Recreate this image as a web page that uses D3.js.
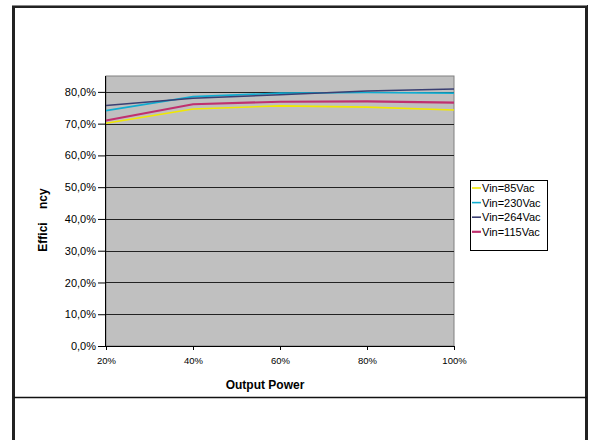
<!DOCTYPE html>
<html><head><meta charset="utf-8">
<script src="https://cdn.jsdelivr.net/npm/d3@7"></script>
<style>body{margin:0;background:#fff}svg{display:block;font-family:Arial,"Liberation Sans",sans-serif}</style>
</head><body>
<svg id="c" width="590" height="440"></svg>
<script>
const categories = ["20%","40%","60%","80%","100%"];
const xValues = [0.2,0.4,0.6,0.8,1.0];
const v85  = [0.701,0.746,0.756,0.752,0.743];
const v230 = [0.741,0.785,0.796,0.798,0.796];
const v264 = [0.757,0.780,0.791,0.803,0.809];
const v115 = [0.710,0.761,0.769,0.770,0.766];
const seriesNames = ["Vin=85Vac","Vin=230Vac","Vin=264Vac","Vin=115Vac"];
const yTicks = [0,0.1,0.2,0.3,0.4,0.5,0.6,0.7,0.8];

const series = [
  {name: seriesNames[0], values: v85,  color: "#f0e800", w: 1.6},
  {name: seriesNames[1], values: v230, color: "#10acd0", w: 1.6},
  {name: seriesNames[2], values: v264, color: "#3a3f72", w: 1.6},
  {name: seriesNames[3], values: v115, color: "#c0306e", w: 2.2}
];
const drawOrder = [0,3,1,2];

const svg = d3.select("#c");
// outer frame
svg.append("rect").attr("x",13.5).attr("y",6.5).attr("width",573).attr("height",440)
  .attr("fill","#fff").attr("stroke","#222").attr("stroke-width",3);
svg.append("line").attr("x1",12).attr("x2",587).attr("y1",5.5).attr("y2",5.5).attr("stroke","#888").attr("stroke-width",1);
svg.append("line").attr("x1",14).attr("x2",587).attr("y1",397.5).attr("y2",397.5).attr("stroke","#111").attr("stroke-width",1.5);

const L=106,R=454,T=76,B=346;
const x = d3.scaleLinear().domain([0.2,1.0]).range([L,R]);
const y = d3.scaleLinear().domain([0,0.85]).range([B,T]);

svg.append("rect").attr("x",L).attr("y",T).attr("width",R-L).attr("height",B-T)
  .attr("fill","#c0c0c0").attr("stroke","#808080").attr("stroke-width",1);

// gridlines
svg.append("g").selectAll("line").data(yTicks.slice(1)).join("line")
  .attr("x1",L).attr("x2",R).attr("y1",d=>Math.round(y(d))+0.5).attr("y2",d=>Math.round(y(d))+0.5)
  .attr("stroke","#222").attr("stroke-width",1);

// y axis
const yAxis = d3.axisLeft(y).tickValues(yTicks).tickSize(8).tickPadding(2)
  .tickFormat(d=>d3.format(".1f")(d*100).replace(".",",")+"%");
const gy = svg.append("g").attr("transform",`translate(${L},0)`).call(yAxis);
gy.select(".domain").attr("d",`M-0.5,${T}V${B}`).attr("stroke","#000");
gy.selectAll(".tick line").attr("stroke","#000");
gy.selectAll("text").attr("font-size",11).attr("fill","#000").attr("font-family","Arial,'Liberation Sans',sans-serif");

// x axis
const xAxis = d3.axisBottom(x).tickValues(xValues).tickSize(4).tickPadding(7)
  .tickFormat((d,i)=>categories[i]);
const gx = svg.append("g").attr("transform",`translate(0,${B})`).call(xAxis);
gx.select(".domain").attr("d",`M${L},0.5H${R}`).attr("stroke","#000");
gx.selectAll(".tick line").attr("stroke","#000");
gx.selectAll("text").attr("font-size",9.5).attr("fill","#000").attr("font-family","Arial,'Liberation Sans',sans-serif");

// lines
const line = d3.line().x((d,i)=>x(xValues[i])).y(d=>y(d));
svg.append("g").selectAll("path").data(drawOrder.map(i=>series[i])).join("path")
  .attr("d",d=>line(d.values)).attr("fill","none")
  .attr("stroke",d=>d.color).attr("stroke-width",d=>d.w);

// axis titles
svg.append("text").attr("x",265).attr("y",389).attr("text-anchor","middle")
  .attr("font-size",12).attr("font-weight","bold").text("Output Power");
svg.append("text").attr("transform","translate(47,220) rotate(-90)").attr("text-anchor","middle")
  .attr("font-size",12).attr("font-weight","bold").style("white-space","pre").text("Effici    ncy");

// legend
const lg = svg.append("g");
lg.append("rect").attr("x",470.5).attr("y",180.5).attr("width",77).attr("height",70)
  .attr("fill","#fff").attr("stroke","#000").attr("stroke-width",1);
series.forEach((s,i)=>{
  const yy = 188 + i*14.6;
  lg.append("line").attr("x1",472).attr("x2",481).attr("y1",yy).attr("y2",yy)
    .attr("stroke",s.color).attr("stroke-width",s.w);
  lg.append("text").attr("x",482).attr("y",yy+4).attr("font-size",11).text(s.name);
});
</script>
</body></html>
